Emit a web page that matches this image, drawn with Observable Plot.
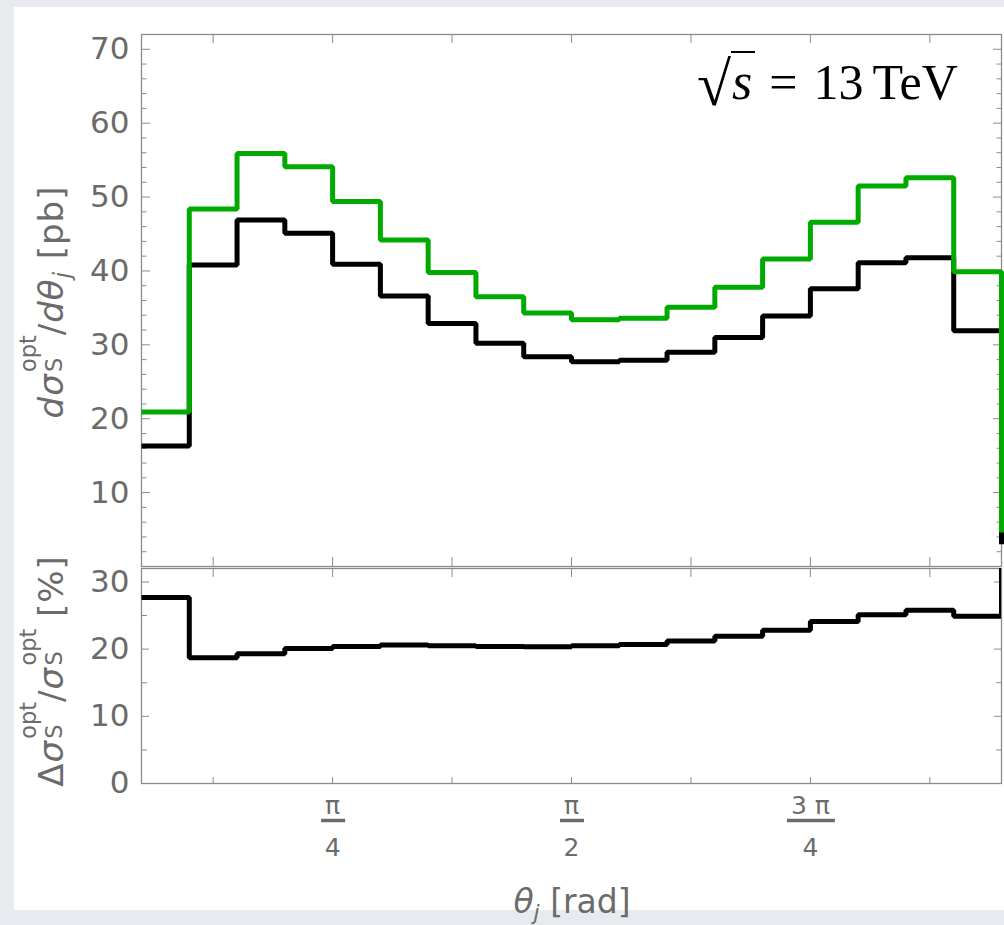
<!DOCTYPE html>
<html><head><meta charset="utf-8">
<script src="https://cdn.jsdelivr.net/npm/d3@7"></script>
<script src="https://cdn.jsdelivr.net/npm/@observablehq/plot@0.6"></script>
<style>
html,body{margin:0;padding:0}
body{width:1004px;height:925px;background:#e7eaee;position:relative;overflow:hidden;font-family:"DejaVu Sans",sans-serif}
#page{position:absolute;left:14px;top:7px;width:990px;height:903px;background:#fff}
#topPlot{position:absolute;left:0;top:0}
#botPlot{position:absolute;left:0;top:553px}
.lab{position:absolute;white-space:nowrap;color:#6b6b6b;font-size:34px;line-height:40px;height:40px}
.ylab{transform:translate(-50%,-50%) rotate(-90deg);letter-spacing:1px}
.ss{display:inline-block;position:relative;width:1.12em;height:1px}
.ss span{position:absolute;left:0.06em;font-size:0.66em;line-height:1;letter-spacing:0}
.sb{font-size:0.66em;position:relative;top:0.3em}
#xlab{font-size:33px;line-height:36px;height:36px}
#energy{position:absolute;left:683px;top:41px;font-family:"Liberation Serif",serif;font-size:50px;line-height:60px;color:#000;white-space:nowrap}
#energy .rad{font-size:62px;position:relative;top:6px}
#energy .vinc{border-top:2px solid #000;padding:0 3px 0 1px;font-style:italic;font-size:52px}
</style></head><body>
<div id="page">
  <div id="topPlot"></div>
  <div id="botPlot"></div>
  <div class="lab ylab" style="left:37px;top:295px"><i>d</i><i>σ</i><span class="ss"><span style="bottom:24px">opt</span><span style="bottom:-2px">S</span></span>/<i>d</i><i>θ</i><span class="sb"><i>j</i></span>&nbsp;[pb]</div>
  <div class="lab ylab" style="left:37px;top:664px">Δ<i>σ</i><span class="ss"><span style="bottom:24px">opt</span><span style="bottom:-2px">S</span></span>/<i>σ</i><span class="ss"><span style="bottom:24px">opt</span><span style="bottom:-2px">S</span></span>&nbsp;[%]</div>
  <div class="lab" id="xlab" style="left:558px;top:877px;transform:translateX(-50%)"><i>θ</i><span class="sb"><i>j</i></span>&nbsp;[rad]</div>
  <div id="energy"><span class="rad">√</span><span class="vinc">s</span><span style="margin-left:14px">=</span><span style="margin-left:16px">13</span><span style="margin-left:9px">TeV</span></div>
</div>
<script>
// ---- data ----
// bin edges in units of π/20 (18 bins from π/20 to 19π/20)
const binEdges = [1,2,3,4,5,6,7,8,9,10,11,12,13,14,15,16,17,18,19];
const sigmaBlack = [16.3, 40.8, 46.9, 45.1, 40.9, 36.6, 32.9, 30.2, 28.4, 27.7, 27.9, 29.0, 31.0, 33.9, 37.6, 41.1, 41.8, 31.9];
const sigmaGreen = [20.9, 48.4, 55.9, 54.1, 49.4, 44.2, 39.8, 36.5, 34.3, 33.4, 33.6, 35.1, 37.8, 41.6, 46.6, 51.5, 52.6, 39.9];
const deltaRatio = [27.7, 18.7, 19.3, 20.1, 20.4, 20.6, 20.5, 20.4, 20.35, 20.5, 20.7, 21.2, 21.9, 22.8, 24.1, 25.1, 25.8, 24.9];
// values of the following (off-range) bin, seen only as the drop at the right edge
const nextBlack = 3.0, nextGreen = 4.6, nextRatio = 53;
const yTicksTop = [10,20,30,40,50,60,70];
const yMinorTop = [2,4,6,8,12,14,16,18,22,24,26,28,32,34,36,38,42,44,46,48,52,54,56,58,62,64,66,68];
const yTicksBot = [0,10,20,30];
const yMinorBot = [5,15,25];
const xTickEighths = [1,2,3,4,5,6,7];          // ticks at k·π/8
const xFracLabels = [{k:1, num:"π", den:"4"}, {k:2, num:"π", den:"2"}, {k:3, num:"3 π", den:"4"}]; // at k·π/4

const PI = Math.PI;
const xDomain = [binEdges[0]*PI/20, binEdges[binEdges.length-1]*PI/20];
const xTicks = xTickEighths.map(k => k*PI/8);
function steps(vals, after) {
  const pts = vals.map((v, i) => ({x: binEdges[i]*PI/20, y: v}));
  pts.push({x: binEdges[vals.length]*PI/20, y: after});
  return pts;
}
const GRAY = "#8c8c8c", TXT = "#6b6b6b", GREEN = "#00aa00";
const blank = () => "";

const topPlot = Plot.plot({
  width: 990, height: 563, marginTop: 27, marginBottom: 4, marginLeft: 127, marginRight: 3,
  style: {background: "transparent", overflow: "visible", fontFamily: "DejaVu Sans"},
  x: {domain: xDomain},
  y: {domain: [0, 72]},
  marks: [
    Plot.frame({stroke: GRAY, strokeWidth: 1.3}),
    Plot.axisX(xTicks, {anchor: "top", tickSize: -8, tickFormat: blank, stroke: GRAY, label: null}),
    Plot.axisX(xTicks, {anchor: "bottom", tickSize: -9, tickFormat: blank, stroke: GRAY, label: null}),
    Plot.axisY(yMinorTop, {anchor: "left", tickSize: -5.5, tickFormat: blank, stroke: GRAY, label: null}),
    Plot.axisY(yTicksTop, {anchor: "left", tickSize: -9, tickFormat: blank, stroke: GRAY, label: null}),
    Plot.axisY(yMinorTop, {anchor: "right", tickSize: -5.5, tickFormat: blank, stroke: GRAY, label: null}),
    Plot.axisY(yTicksTop, {anchor: "right", tickSize: -9, tickFormat: blank, stroke: GRAY, label: null}),
    Plot.axisY(yTicksTop, {anchor: "left", tickSize: 0, tickPadding: 12, fontSize: 31, fill: TXT, label: null}),
    Plot.line(steps(sigmaBlack, nextBlack), {x: "x", y: "y", curve: "step-after", stroke: "#000", strokeWidth: 5, strokeLinejoin: "miter", strokeLinecap: "butt"}),
    Plot.line(steps(sigmaGreen, nextGreen), {x: "x", y: "y", curve: "step-after", stroke: GREEN, strokeWidth: 5, strokeLinejoin: "miter", strokeLinecap: "butt"})
  ]
});
document.getElementById("topPlot").append(topPlot);

const botPlot = Plot.plot({
  width: 990, height: 350, marginTop: 8, marginBottom: 127, marginLeft: 127, marginRight: 3,
  style: {background: "transparent", overflow: "visible", fontFamily: "DejaVu Sans"},
  x: {domain: xDomain},
  y: {domain: [0, 32]},
  marks: [
    Plot.frame({stroke: GRAY, strokeWidth: 1.3}),
    Plot.axisX(xTicks, {anchor: "top", tickSize: -8, tickFormat: blank, stroke: GRAY, label: null}),
    Plot.axisX(xTicks, {anchor: "bottom", tickSize: -6, tickFormat: blank, stroke: GRAY, label: null}),
    Plot.axisY(yMinorBot, {anchor: "left", tickSize: -6, tickFormat: blank, stroke: GRAY, label: null}),
    Plot.axisY(yTicksBot, {anchor: "left", tickSize: -8, tickFormat: blank, stroke: GRAY, label: null}),
    Plot.axisY(yMinorBot, {anchor: "right", tickSize: -6, tickFormat: blank, stroke: GRAY, label: null}),
    Plot.axisY(yTicksBot, {anchor: "right", tickSize: -8, tickFormat: blank, stroke: GRAY, label: null}),
    Plot.axisY(yTicksBot, {anchor: "left", tickSize: 0, tickPadding: 12, fontSize: 31, fill: TXT, label: null}),
    Plot.line(steps(deltaRatio, nextRatio), {x: "x", y: "y", curve: "step-after", stroke: "#000", strokeWidth: 5, strokeLinejoin: "miter", strokeLinecap: "butt", clip: true}),
    Plot.text(xFracLabels, {x: d => d.k*PI/4, text: "num", frameAnchor: "bottom", lineAnchor: "middle", dy: 22, fontSize: 25, fill: TXT}),
    Plot.text(xFracLabels, {x: d => d.k*PI/4, text: "den", frameAnchor: "bottom", lineAnchor: "middle", dy: 64, fontSize: 25, fill: TXT})
  ]
});
document.getElementById("botPlot").append(botPlot);

// fraction bars under the π numerators (drawn in each numerator's own frame)
d3.select(botPlot).selectAll("text").filter(function() { return this.textContent.includes("π"); }).each(function() {
  const b = this.getBBox();
  d3.select(this.parentNode).append("line")
    .attr("transform", this.getAttribute("transform"))
    .attr("x1", b.x - 4).attr("x2", b.x + b.width + 5)
    .attr("y1", 15).attr("y2", 15)
    .attr("stroke", TXT).attr("stroke-width", 3.5);
});
</script>
</body></html>
